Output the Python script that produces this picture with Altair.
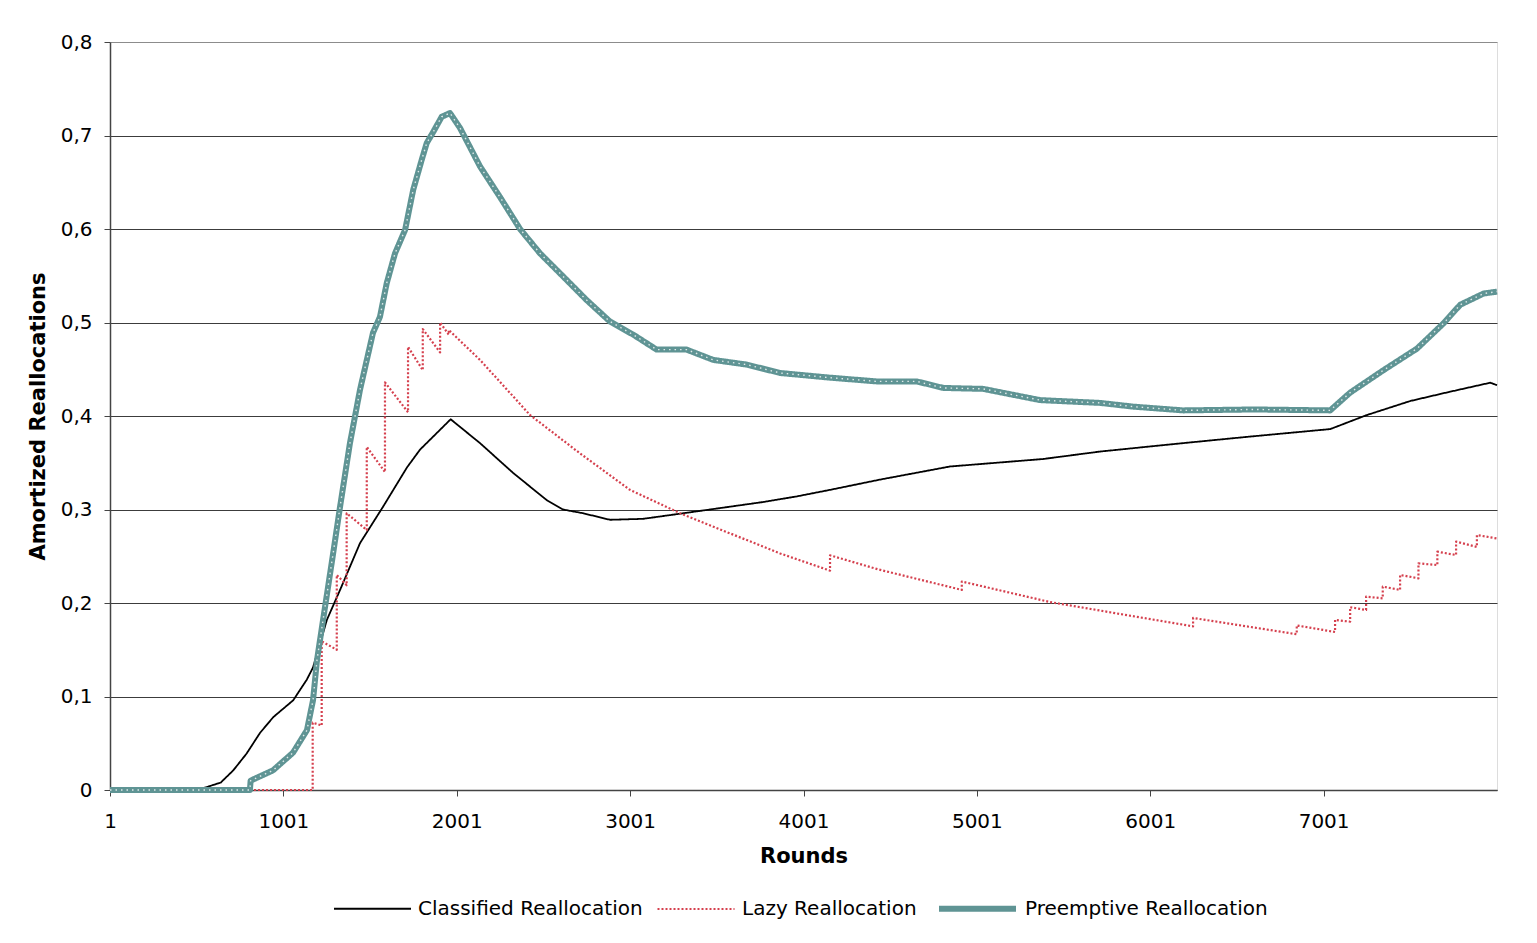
import altair as alt
import pandas as pd

# ---------------- data ----------------
series_names = ["Classified Reallocation", "Lazy Reallocation", "Preemptive Reallocation"]

classified_rounds = [1, 540, 640, 712, 789, 866, 943, 1058, 1136, 1172, 1252, 1328, 1443, 1576,
                     1714, 1789, 1966, 2135, 2327, 2520, 2614, 2729, 2885, 3075, 3231, 3385,
                     3577, 3768, 3962, 4154, 4443, 4846, 5383, 5712, 6191, 6577, 7039, 7250,
                     7500, 7731, 7962, 8001]
classified_values = [0, 0.002, 0.008, 0.021, 0.039, 0.061, 0.078, 0.096, 0.118, 0.131, 0.182,
                     0.214, 0.264, 0.303, 0.345, 0.364, 0.3965, 0.371, 0.339, 0.310, 0.300,
                     0.296, 0.289, 0.290, 0.294, 0.298, 0.303, 0.308, 0.314, 0.321, 0.332,
                     0.346, 0.354, 0.362, 0.371, 0.378, 0.386, 0.401, 0.416, 0.426, 0.4356, 0.433]

lazy_rounds = [1, 1170, 1170, 1222, 1222, 1309, 1309, 1366, 1366, 1482, 1482, 1587, 1587,
               1720, 1720, 1805, 1805, 1905, 1905, 1955, 1955, 2135, 2424, 2712, 3000, 3289,
               3577, 3866, 4154, 4154, 4431, 4914, 4914, 5423, 6248, 6248, 6846, 6846, 7067,
               7067, 7154, 7154, 7246, 7246, 7342, 7342, 7442, 7442, 7548, 7548, 7657, 7657,
               7765, 7765, 7885, 7885, 8001]
lazy_values = [0, 0, 0.072, 0.069, 0.159, 0.150, 0.230, 0.219, 0.296, 0.278, 0.367, 0.340,
               0.436, 0.404, 0.474, 0.449, 0.493, 0.468, 0.500, 0.487, 0.492, 0.460, 0.401,
               0.360, 0.321, 0.296, 0.2745, 0.253, 0.2346, 0.251, 0.236, 0.214, 0.223, 0.201,
               0.175, 0.184, 0.1666, 0.176, 0.169, 0.182, 0.180, 0.1955, 0.1925, 0.2068,
               0.205, 0.2175, 0.214, 0.230, 0.2264, 0.2424, 0.2406, 0.2549, 0.2513, 0.2656,
               0.260, 0.2727, 0.269]

preemptive_rounds = [1, 808, 812, 941, 1057, 1137, 1172, 1195, 1230, 1288, 1328, 1385, 1443,
                     1518, 1558, 1597, 1645, 1703, 1750, 1799, 1828, 1866, 1914, 1962, 2020,
                     2135, 2251, 2366, 2481, 2616, 2750, 2885, 3019, 3154, 3327, 3480, 3673,
                     3866, 4154, 4423, 4654, 4808, 5038, 5365, 5712, 5904, 6192, 6600, 7039,
                     7154, 7346, 7539, 7692, 7789, 7924, 8001]
preemptive_values = [0, 0, 0.010, 0.021, 0.040, 0.064, 0.096, 0.139, 0.182, 0.253, 0.303,
                     0.371, 0.428, 0.489, 0.506, 0.542, 0.574, 0.599, 0.642, 0.674, 0.692,
                     0.704, 0.720, 0.724, 0.708, 0.667, 0.634, 0.600, 0.574, 0.549, 0.524,
                     0.501, 0.487, 0.471, 0.471, 0.460, 0.455, 0.446, 0.441, 0.437, 0.437,
                     0.430, 0.429, 0.417, 0.414, 0.410, 0.406, 0.407, 0.406, 0.425, 0.449,
                     0.472, 0.499, 0.519, 0.531, 0.533]

x_ticks = [1, 1001, 2001, 3001, 4001, 5001, 6001, 7001]
y_ticks = [0, 0.1, 0.2, 0.3, 0.4, 0.5, 0.6, 0.7, 0.8]


def frame(name, rounds, values):
    return pd.DataFrame({"series": name, "round": rounds, "value": values,
                         "idx": list(range(len(rounds)))})


df_c = frame(series_names[0], classified_rounds, classified_values)
df_l = frame(series_names[1], lazy_rounds, lazy_values)
df_p = frame(series_names[2], preemptive_rounds, preemptive_values)

FONT = "DejaVu Sans"

x_enc = alt.X("round:Q",
              scale=alt.Scale(domain=[1, 8001], nice=False, zero=False),
              axis=alt.Axis(values=x_ticks, title="Rounds", grid=False, format="d",
                            labelFontSize=20, titleFontSize=21, titleFontWeight="bold",
                            labelFont=FONT, titleFont=FONT, labelColor="#000",
                            titleColor="#000", tickSize=6, tickColor="#444",
                            domainColor="#444", domainWidth=1.5, labelPadding=15,
                            titleX=693.5, titleY=66, titleBaseline="middle",
                            labelFlush=False))
y_enc = alt.Y("value:Q",
              scale=alt.Scale(domain=[0, 0.8], nice=False),
              axis=alt.Axis(values=y_ticks, title="Amortized Reallocations",
                            labelExpr="datum.value == 0 ? '0' : replace(format(datum.value, '.1f'), '.', ',')",
                            grid=True,
                            gridColor={"condition": {"test": "datum.value >= 0.79", "value": "#8c8c8c"},
                                       "value": "#3c3c3c"},
                            gridWidth=1.2,
                            labelFontSize=20, titleFontSize=21, titleFontWeight="bold",
                            labelFont=FONT, titleFont=FONT, labelColor="#000",
                            titleColor="#000", tickSize=6, tickColor="#444",
                            domainColor="#444", domainWidth=1.5, labelPadding=12,
                            titleAngle=-90, titleX=-72, titleY=374, titleAlign="center",
                            titleBaseline="middle"))

color_scale = alt.Scale(domain=series_names, range=["#000000", "#d5404e", "#5f9494"])
dash_scale = alt.Scale(domain=series_names, range=[[1, 0], [2, 2], [1, 0]])
width_scale = alt.Scale(type="ordinal", domain=series_names, range=[1.8, 2.2, 6])

legend = alt.Legend(title=None, orient="none", direction="horizontal",
                    legendX=223, legendY=825, symbolType="stroke", symbolSize=5929,
                    labelFontSize=20, labelFont=FONT, labelColor="#000",
                    labelOffset=6, columnPadding=10, labelLimit=500)


def layer_for(df):
    return alt.Chart(df).mark_line(strokeCap="butt", strokeJoin="round").encode(
        x=x_enc, y=y_enc,
        color=alt.Color("series:N", scale=color_scale, legend=legend),
        strokeDash=alt.StrokeDash("series:N", scale=dash_scale, legend=legend),
        strokeWidth=alt.StrokeWidth("series:N", scale=width_scale, legend=legend),
        order=alt.Order("idx:Q"),
    )


overlay = alt.Chart(df_p).mark_line(color="white", strokeWidth=1.4,
                                    strokeDash=[1.5, 4], opacity=0.8).encode(
    x=x_enc, y=y_enc, order=alt.Order("idx:Q"))

chart = alt.layer(layer_for(df_c), layer_for(df_l), layer_for(df_p), overlay).properties(
    width=1387, height=748,
    padding={"left": 102, "top": 34, "right": 24, "bottom": 140},
    autosize=alt.AutoSizeParams(type="none"),
).configure_view(stroke="#8c8c8c", strokeWidth=2).configure(background="white")

chart.save("out.html", embed_options={"renderer": "svg", "actions": False})
